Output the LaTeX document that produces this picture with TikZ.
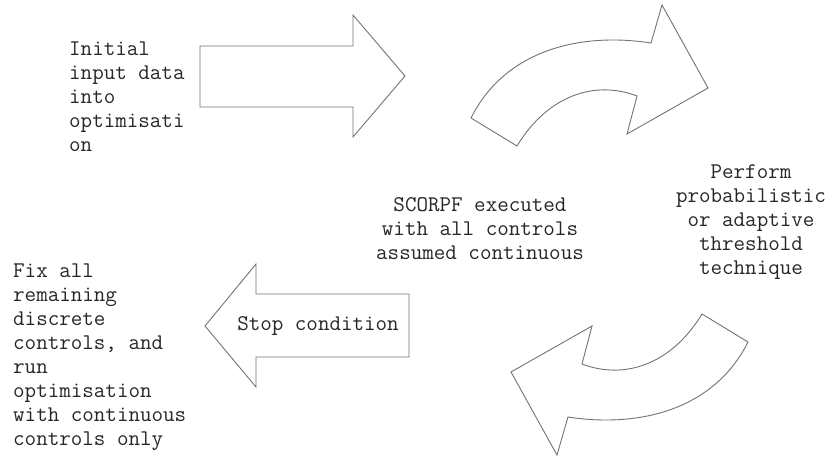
\documentclass[tikz,border=0pt]{standalone}
\usepackage{fontspec}
\usetikzlibrary{positioning}

\begin{document}
\begin{tikzpicture}[x=1pt,y=-1pt,
  block arrow/.style={draw={rgb,1:red,0.45;green,0.45;blue,0.45},line width=0.9pt,fill=white,line join=miter},
  step text/.style={font=\ttfamily\fontsize{22.4}{24}\selectfont,text=black!85,inner sep=0pt}]
  \useasboundingbox (0,0) rectangle (834,457);

  % straight arrows
  \draw[block arrow] (200,46) -- (353,46) -- (353,15) -- (405,76) -- (353,137) -- (353,107) -- (200,107) -- cycle;
  \draw[block arrow] (409,294) -- (256,294) -- (256,264) -- (205,326) -- (256,387) -- (256,357) -- (409,357) -- cycle;

  % bent arrows
  \draw[block arrow] (471,118) .. controls (505,50) and (580,32) .. (651,43) -- (662,5) -- (708,88) -- (627,134)
    -- (637,96) .. controls (595,80) and (548,95) .. (517,146) -- cycle;
  \draw[block arrow] (748,342) .. controls (714,410) and (639,428) .. (568,417) -- (557,455) -- (511,372) -- (592,326)
    -- (582,364) .. controls (624,380) and (671,365) .. (702,314) -- cycle;

  \node[step text,align=left,anchor=north west] (initial) at (69,42) {Initial\\input data\\into\\optimisati\\on};
  \node[step text,align=center] (scorpf) at (480,229) {SCORPF executed\\with all controls\\assumed continuous};
  \node[step text,align=center] (perform) at (751,222) {Perform\\probabilistic\\or adaptive\\threshold\\technique};
  \node[step text,align=left,anchor=north west] (fixall) at (13,264) {Fix all\\remaining\\discrete\\controls, and\\run\\optimisation\\with continuous\\controls only};
  \node[step text] (stop) at (318,326) {Stop condition};
\end{tikzpicture}
\end{document}
